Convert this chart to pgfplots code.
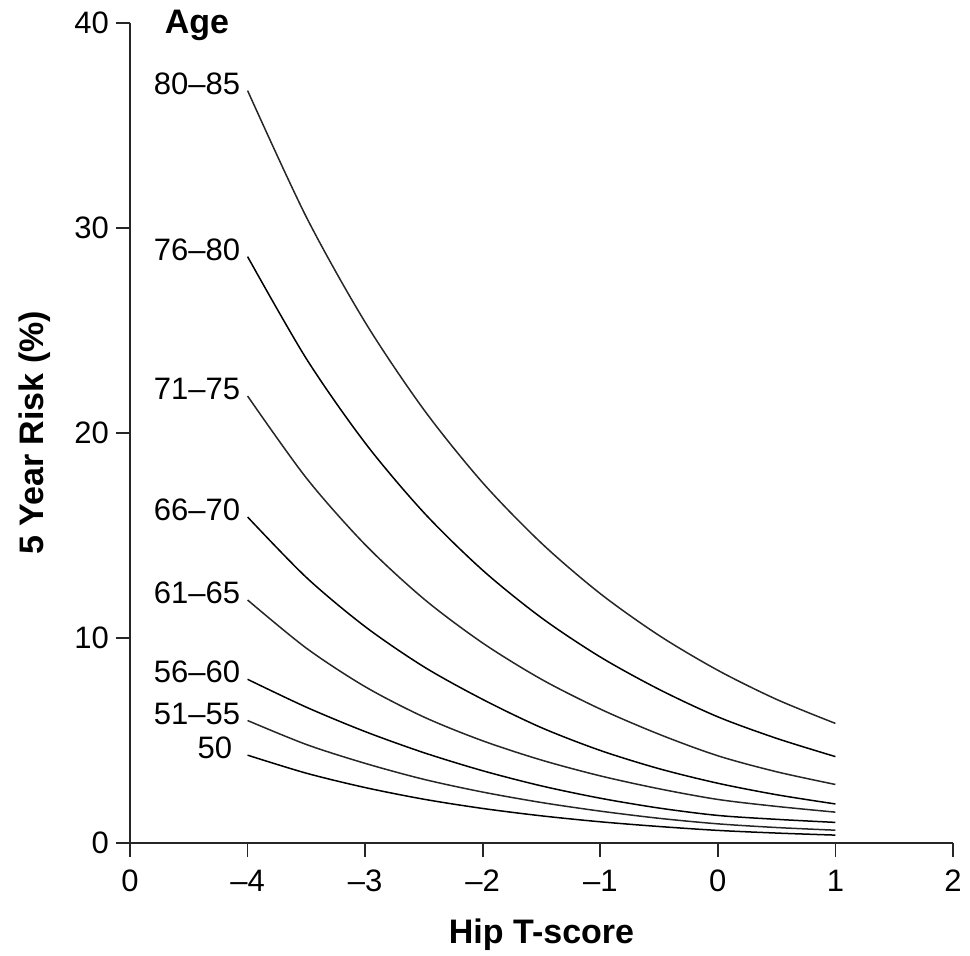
\documentclass[border=0pt]{standalone}
\usepackage{pgfplots}
\pgfplotsset{compat=1.18}
\usepackage{fontspec}
\setmainfont{Liberation Sans}
\tikzset{lbl/.style={anchor=east, xshift=0pt, yshift=3.5pt, text=black, font=\fontsize{15.5}{18}\selectfont}}
\begin{document}
\begin{tikzpicture}
\begin{axis}[
  width=411.5pt, height=410pt, scale only axis,
  xmin=0, xmax=7, ymin=0, ymax=40,
  axis x line=bottom, axis y line=left,
  axis line style={-, line width=0.8pt, black!85},
  xtick={0,1,2,3,4,5,6,7}, xticklabels={0,–4,–3,–2,–1,0,1,2},
  ytick={0,10,20,30,40},
  tick align=outside, major tick length=7pt,
  tick style={black!85, line width=0.8pt},
  /pgf/number format/assume math mode=true,
  ticklabel style={font=\fontsize{15.5}{18}\selectfont},
  xticklabel style={yshift=-3pt},
  xlabel={Hip T-score}, ylabel={5 Year Risk (\%)},
  label style={font=\fontsize{17}{20}\selectfont\bfseries},
  xlabel style={at={(axis description cs:0.5,-0.1122)}, anchor=center},
  ylabel style={at={(axis description cs:-0.1154,0.5)}, anchor=center},
  clip=false,
  cycle list={{black!85,solid}},
  every axis plot/.append style={line width=0.75pt, smooth, no marks},
]
% x position = T-score + 5
\addplot coordinates {(1,36.7)(1.5,30.53)(2,25.40)(2.5,21.13)(3,17.57)(3.5,14.62)(4,12.16)(4.5,10.12)(5,8.42)(5.5,7.00)(6,5.83)} node[pos=0, lbl] {80–85};
\addplot coordinates {(1,28.6)(1.5,23.62)(2,19.51)(2.5,16.11)(3,13.30)(3.5,10.98)(4,9.07)(4.5,7.49)(5,6.15)(5.5,5.10)(6,4.21)} node[pos=0, lbl] {76–80};
\addplot coordinates {(1,21.8)(1.5,17.8)(2,14.55)(2.5,11.9)(3,9.75)(3.5,7.98)(4,6.53)(4.5,5.30)(5,4.25)(5.5,3.47)(6,2.85)} node[pos=0, lbl] {71–75};
\addplot coordinates {(1,15.9)(1.5,12.95)(2,10.55)(2.5,8.59)(3,7.00)(3.5,5.62)(4,4.51)(4.5,3.62)(5,2.91)(5.5,2.35)(6,1.90)} node[pos=0, lbl] {66–70};
\addplot coordinates {(1,11.85)(1.5,9.50)(2,7.62)(2.5,6.14)(3,4.98)(3.5,4.04)(4,3.27)(4.5,2.64)(5,2.12)(5.5,1.78)(6,1.50)} node[pos=0, lbl] {61–65};
\addplot coordinates {(1,7.98)(1.5,6.62)(2,5.43)(2.5,4.40)(3,3.52)(3.5,2.78)(4,2.18)(4.5,1.70)(5,1.34)(5.5,1.15)(6,1.00)} node[pos=0, lbl] {56–60};
\addplot coordinates {(1,5.97)(1.5,4.80)(2,3.88)(2.5,3.10)(3,2.48)(3.5,1.97)(4,1.55)(4.5,1.20)(5,0.93)(5.5,0.75)(6,0.62)} node[pos=0, lbl] {51–55};
\addplot coordinates {(1,4.28)(1.5,3.40)(2,2.70)(2.5,2.13)(3,1.68)(3.5,1.32)(4,1.03)(4.5,0.80)(5,0.61)(5.5,0.48)(6,0.38)} node[pos=0, lbl, xshift=-4pt] {50};
\node[font=\fontsize{17}{20}\selectfont\bfseries] at (axis cs:0.57,39.9) {Age};
\coordinate (bl) at (axis cs:-1.106,-5.51);
\coordinate (tr) at (axis cs:7.145,41.12);
\end{axis}
\pgfresetboundingbox
\useasboundingbox (bl) rectangle (tr);
\end{tikzpicture}
\end{document}
